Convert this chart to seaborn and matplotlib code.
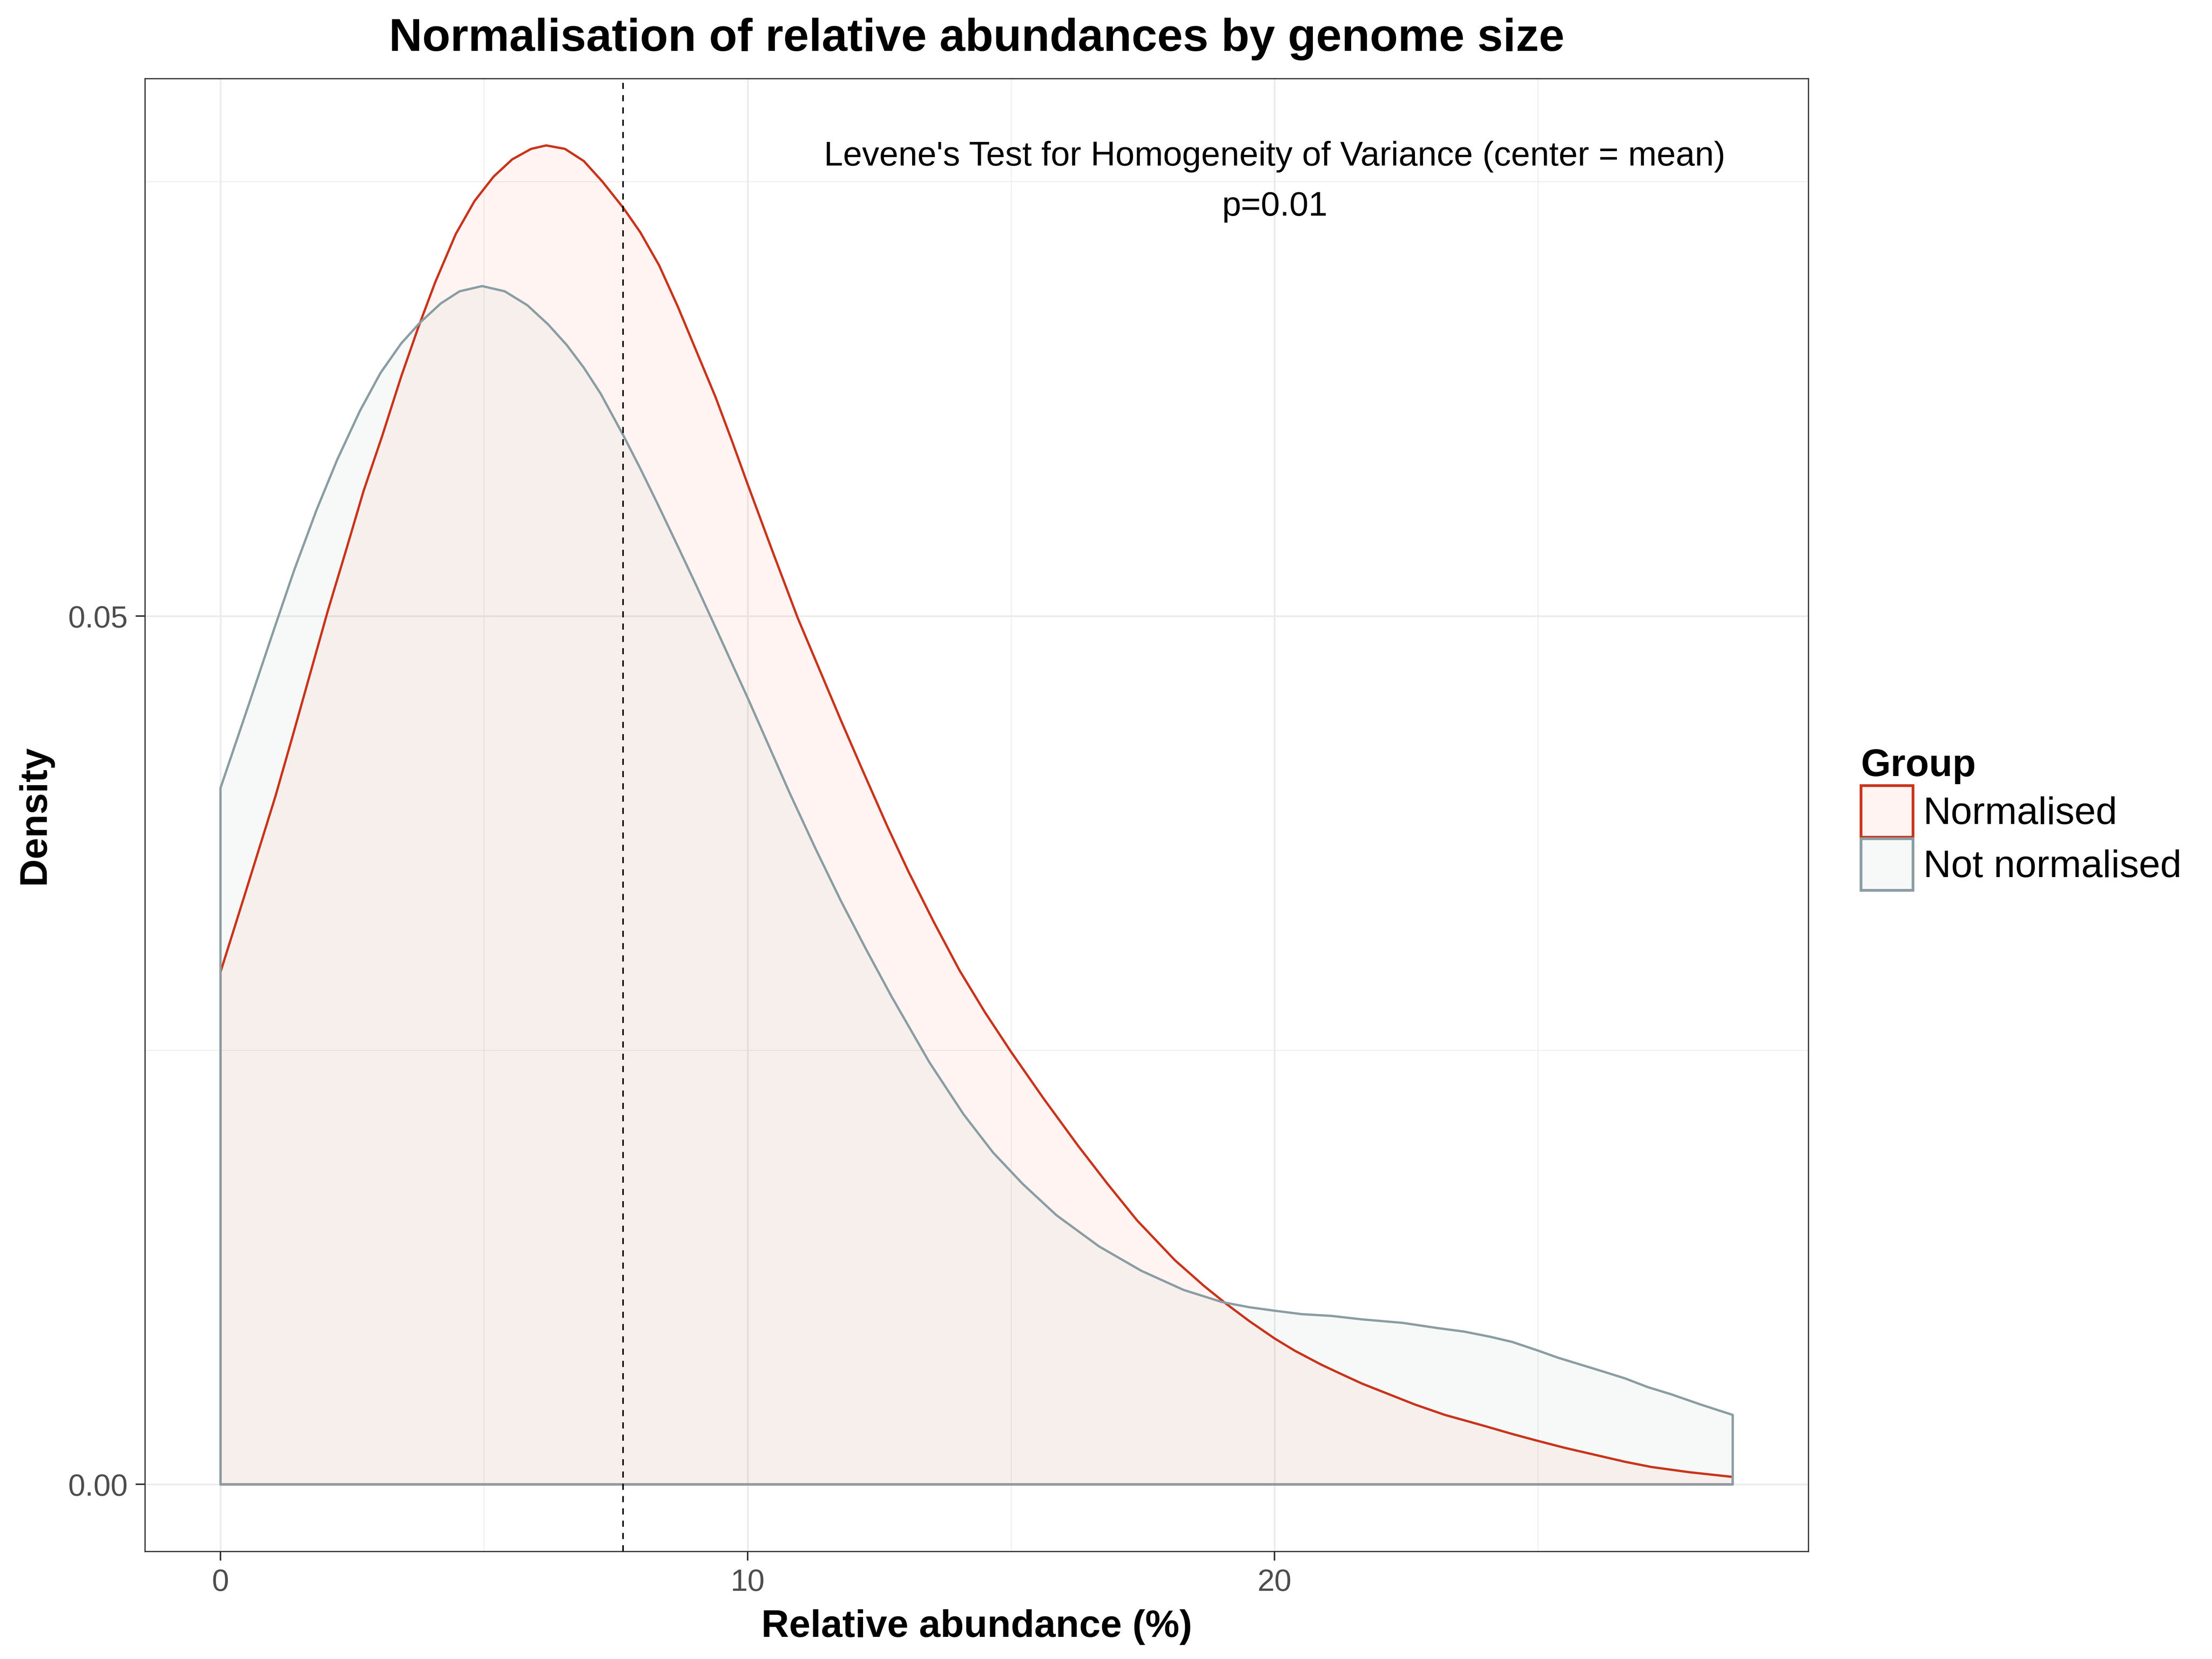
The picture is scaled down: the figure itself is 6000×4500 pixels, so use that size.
import numpy as np
import pandas as pd
import matplotlib
matplotlib.use("Agg")
import matplotlib.pyplot as plt
import seaborn as sns
from matplotlib.patches import Patch

# density curves
norm_x = [0, 0.455, 1.04, 1.36, 1.536, 2.036, 2.393, 2.714, 3.071, 3.429, 3.75, 4.071,
          4.464, 4.82, 5.18, 5.536, 5.893, 6.179, 6.536, 6.893, 7.25, 7.643, 7.964,
          8.321, 8.679, 9.036, 9.393, 9.714, 10.0, 10.464, 10.95, 11.325, 11.77, 12.17,
          12.65, 13.05, 13.53, 14.02, 14.5, 15.0, 15.62, 16.27, 16.83, 17.39, 18.11,
          18.67, 19.08, 19.52, 20.0, 20.38, 20.88, 21.23, 21.66, 22.16, 22.66, 23.23,
          23.94, 24.51, 25.0, 25.51, 26.08, 26.65, 27.15, 27.87, 28.69]
norm_y = [0.0295, 0.0339, 0.0396, 0.0430, 0.0449, 0.0503, 0.0539, 0.0572, 0.0604,
          0.0638, 0.0666, 0.0692, 0.0720, 0.0739, 0.0753, 0.0763, 0.0769, 0.0771,
          0.0769, 0.0762, 0.0750, 0.0735, 0.0721, 0.0702, 0.0678, 0.0652, 0.0626,
          0.0600, 0.0576, 0.0538, 0.0499, 0.0472, 0.0440, 0.0412, 0.0379, 0.0353,
          0.0324, 0.0296, 0.0272, 0.0249, 0.0222, 0.0195, 0.0173, 0.0152, 0.0129,
          0.0114, 0.0104, 0.0094, 0.0084, 0.0077, 0.0069, 0.0064, 0.0058, 0.0052,
          0.0046, 0.0040, 0.0034, 0.0029, 0.0025, 0.0021, 0.0017, 0.0013, 0.0010,
          0.0007, 0.00043]

raw_x = [0, 0.536, 1.0, 1.393, 1.821, 2.214, 2.643, 3.036, 3.429, 3.786, 4.179, 4.536,
         4.964, 5.393, 5.821, 6.214, 6.571, 6.893, 7.214, 7.643, 7.964, 8.286, 8.679,
         9.036, 9.429, 9.714, 10.0, 10.32, 10.80, 11.29, 11.77, 12.25, 12.73, 13.45,
         14.10, 14.66, 15.22, 15.86, 16.67, 17.47, 18.27, 19.0, 19.52, 20.0, 20.52,
         21.08, 21.66, 22.43, 23.09, 23.59, 24.09, 24.51, 25.0, 25.37, 25.80, 26.23,
         26.65, 27.08, 27.51, 28.08, 28.69]
raw_y = [0.0401, 0.0449, 0.0491, 0.0526, 0.0561, 0.0590, 0.0618, 0.0640, 0.0657,
         0.0669, 0.0680, 0.0687, 0.0690, 0.0687, 0.0679, 0.0668, 0.0656, 0.0643,
         0.0628, 0.0604, 0.0585, 0.0565, 0.0540, 0.0517, 0.0491, 0.0472, 0.0453,
         0.0431, 0.0398, 0.0366, 0.0336, 0.0308, 0.0281, 0.0243, 0.0213, 0.0191,
         0.0173, 0.0155, 0.0137, 0.0123, 0.0112, 0.0105, 0.0102, 0.0100, 0.0098,
         0.0097, 0.0095, 0.0093, 0.0090, 0.0088, 0.0085, 0.0082, 0.0077, 0.0073,
         0.0069, 0.0065, 0.0061, 0.0056, 0.0052, 0.0046, 0.0040]

groups = ["Normalised", "Not normalised"]
line_colors = {"Normalised": "#C9341B", "Not normalised": "#8A9DA3"}
fill_colors = {"Normalised": "#FF370F", "Not normalised": "#739B87"}

mean_line = 7.64
levene_text = "Levene's Test for Homogeneity of Variance (center = mean)\np=0.01"
text_x, text_y = 20, 0.075
x_breaks = [0, 10, 20]
x_minor = [5, 15, 25]
y_breaks = [0.0, 0.05]
y_labels = ["0.00", "0.05"]
y_minor = [0.025, 0.075]


def closed_outline(xs, ys, name):
    # geom_density style outline: down to zero at both ends
    cx = [xs[0]] + list(xs) + [xs[-1], xs[0]]
    cy = [0.0] + list(ys) + [0.0, 0.0]
    return pd.DataFrame({"x": cx, "density": cy, "group": name})


df = pd.concat([closed_outline(norm_x, norm_y, groups[0]),
                closed_outline(raw_x, raw_y, groups[1])], ignore_index=True)

sns.set_style("white")
plt.rcParams["font.family"] = ["Liberation Sans", "DejaVu Sans"]
plt.rcParams["text.color"] = "black"
plt.rcParams["axes.labelcolor"] = "black"

fig = plt.figure(figsize=(20, 15), dpi=300)
ax = fig.add_axes([0.0655, 0.0649, 0.8175 - 0.0655, 0.9527 - 0.0649])

for g, xs, ys in [(groups[0], norm_x, norm_y), (groups[1], raw_x, raw_y)]:
    ax.fill_between(xs, ys, 0, color=fill_colors[g], alpha=0.05, lw=0, zorder=2)

sns.lineplot(data=df, x="x", y="density", hue="group", hue_order=groups,
             palette=line_colors, sort=False, estimator=None, legend=False,
             linewidth=1.5, ax=ax, zorder=3)

ax.axvline(mean_line, color="black", lw=1.0, ls=(0, (4, 4)), zorder=4)

ax.text(text_x, text_y, levene_text, ha="center", va="center", multialignment="center",
        fontsize=22.3, linespacing=1.75, color="black", zorder=5)

# ggplot-style limits with 5% expansion
all_x = norm_x + raw_x
all_y = norm_y + raw_y
xr = max(all_x) - min(all_x)
yr = max(all_y)
ax.set_xlim(min(all_x) - 0.05 * xr, max(all_x) + 0.05 * xr)
ax.set_ylim(-0.05 * yr, yr * 1.05)

ax.set_xticks(x_breaks)
ax.set_xticks(x_minor, minor=True)
ax.set_yticks(y_breaks)
ax.set_yticklabels(y_labels)
ax.set_yticks(y_minor, minor=True)

ax.set_axisbelow(True)
ax.grid(which="major", color="#EBEBEB", lw=1.1)
ax.grid(which="minor", color="#EBEBEB", lw=0.55)
ax.tick_params(which="major", length=6, width=1.0, color="#333333",
               labelsize=20, labelcolor="#4D4D4D", pad=5,
               bottom=True, left=True)
ax.tick_params(which="minor", length=0)
for s in ax.spines.values():
    s.set_color("#333333")
    s.set_linewidth(0.8)

ax.set_xlabel("Relative abundance (%)", fontsize=25, fontweight="bold", labelpad=8)
ax.set_ylabel("Density", fontsize=25, fontweight="bold", labelpad=10)
ax.set_title("Normalisation of relative abundances by genome size",
             fontsize=30, fontweight="bold", pad=18)

handles = [Patch(facecolor=(*matplotlib.colors.to_rgb(fill_colors[g]), 0.05),
                 edgecolor=line_colors[g], lw=1.8, label=g) for g in groups]
leg = ax.legend(handles=handles, title="Group", loc="center left",
                bbox_to_anchor=(1.0317, 0.497), frameon=False, fontsize=25,
                title_fontproperties={"weight": "bold", "size": 25},
                handlelength=1.35, handleheight=1.69, handletextpad=0.27,
                labelspacing=0.04, borderpad=0, borderaxespad=0, alignment="left")

fig.savefig("out.png", dpi=300)
